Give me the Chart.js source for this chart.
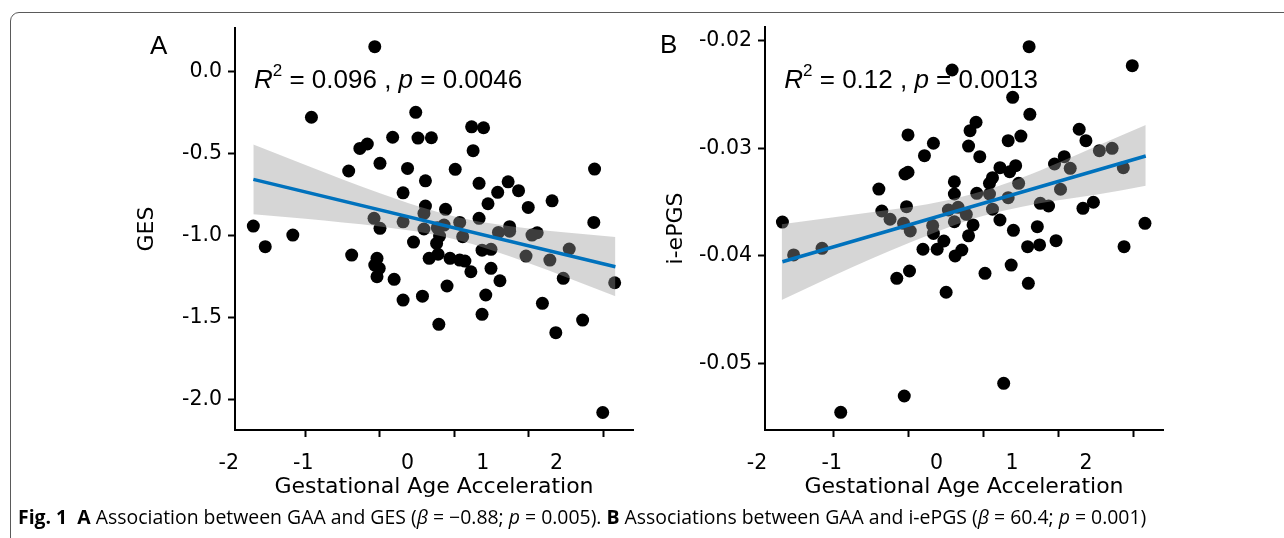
<!DOCTYPE html>
<html>
<head>
<meta charset="utf-8">
<script src="https://cdn.jsdelivr.net/npm/chart.js@4.4.1/dist/chart.umd.min.js"></script>
<style>
  html, body { margin: 0; padding: 0; background: #fff; overflow: hidden; }
  #page { position: relative; width: 1284px; height: 538px; }
  #frame { position: absolute; left: 10px; top: 12px; width: 1300px; height: 600px;
           border: 1.5px solid #5a5a5a; border-top-left-radius: 9px; }
  canvas { position: absolute; top: 0; }
  #cvA { left: 0; }
  #cvB { left: 645px; }
  #caption { position: absolute; left: 18px; top: 507px; font: 16px "Open Sans", sans-serif;
             line-height: 1; white-space: nowrap; color: #000; }
</style>
</head>
<body>
<div id="page">
  <div id="frame"></div>
  <canvas id="cvA" width="645" height="538"></canvas>
  <canvas id="cvB" width="639" height="538"></canvas>
  <div id="caption"><b>Fig. 1</b>&nbsp; <b>A</b> Association between GAA and GES (<i>β</i> = −0.88; <i>p</i> = 0.005). <b>B</b> Associations between GAA and i-ePGS (<i>β</i> = 60.4; <i>p</i> = 0.001)</div>
</div>
<script>
// panel A: gestational age acceleration vs GES
const gaaA = [
  -0.07, -0.92, 0.48, 0.17, 0.51, 0.69, -0.27, -0.17, 1.23, 1.39,
  1.25, -0.42, 0.00, 0.37, 1.01, 2.88, 0.61, 1.33, 1.72, 1.86,
  1.58, 0.31, 1.45, 1.99, 2.31, 0.61, 0.88, 0.59, -0.08, 0.31,
  1.33, 2.87, -1.70, 0.00, 0.59, 0.77, 0.86, 1.07, 1.74, 1.74,
  1.59, -1.17, 0.45, -1.54, 1.11, 2.04, 2.11, -0.38, -0.04, -0.07,
  -0.01, -0.04, 0.19, 0.76, 0.80, 0.66, 0.78, 0.94, 1.07, 1.14,
  1.22, 1.37, 1.49, 1.49, 1.61, 1.42, 1.37, 0.90, 0.57, 0.31,
  0.79, 1.96, 2.28, 2.54, 2.46, 2.18, 2.36, 2.72, 3.15, 2.99
];
const gesA = [
  0.153, -0.278, -0.248, -0.400, -0.405, -0.403, -0.468, -0.441, -0.336, -0.342,
  -0.482, -0.606, -0.559, -0.590, -0.596, -0.594, -0.666, -0.681, -0.672, -0.726,
  -0.736, -0.739, -0.806, -0.828, -0.788, -0.820, -0.840, -0.865, -0.895, -0.916,
  -0.895, -0.920, -0.942, -0.956, -0.960, -0.952, -0.936, -0.920, -0.946, -0.973,
  -0.981, -0.997, -1.040, -1.068, -1.007, -0.997, -0.983, -1.119, -1.139, -1.180,
  -1.200, -1.251, -1.267, -1.048, -1.003, -1.139, -1.114, -1.139, -1.150, -1.156,
  -1.221, -1.089, -1.084, -1.200, -1.276, -1.363, -1.481, -1.308, -1.370, -1.394,
  -1.542, -1.125, -1.150, -1.082, -1.261, -1.414, -1.593, -1.516, -1.288, -2.080
];
const fitXA = [-1.70, 3.16];
const fitYA = [-0.657, -1.190];
const bandXA = [-1.70, -1.0, -0.5, 0.0, 0.5, 1.0, 1.5, 2.0, 2.5, 3.16];
const bandHiA = [-0.444, -0.570, -0.658, -0.742, -0.820, -0.883, -0.927, -0.957, -0.982, -1.009];
const bandLoA = [-0.870, -0.898, -0.920, -0.944, -0.976, -1.023, -1.089, -1.169, -1.254, -1.371];

// panel B: gestational age acceleration vs i-ePGS
const gaaB = [
  1.61, 0.58, 2.99, 1.39, 1.62, 0.90, 0.82, -0.01, 2.28, 2.37,
  1.33, 1.50, 0.33, 0.80, 0.21, 0.95, 2.55, 2.72, 2.08, 1.95,
  2.16, 2.87, 1.22, 1.43, 1.35, -0.05, -0.01, 1.12, 1.08, 1.47,
  0.61, -0.40, 2.03, 0.61, 0.91, 1.08, 1.33, 1.76, 1.87, 2.47,
  2.33, -0.03, -0.36, -0.25, 0.53, 0.66, 0.77, 1.12, -1.69, 0.61,
  1.22, 3.16, -0.07, 0.02, 0.32, 0.33, 0.86, 1.40, 1.72, 0.80,
  0.47, -1.54, -1.16, 0.19, 0.38, 0.62, 0.71, 1.59, 1.75, 1.97,
  2.88, -0.16, 0.01, 0.50, 1.02, 1.37, 1.60, 1.27, -0.06, -0.91
];
const pgsB = [
  -0.02056, -0.02273, -0.02233, -0.02527, -0.02685, -0.02759, -0.02837, -0.02877, -0.02824, -0.02930,
  -0.02930, -0.02887, -0.02954, -0.02980, -0.03070, -0.03079, -0.03023, -0.03001, -0.03079, -0.03147,
  -0.03187, -0.03181, -0.03181, -0.03163, -0.03219, -0.03240, -0.03224, -0.03274, -0.03327, -0.03327,
  -0.03312, -0.03380, -0.03382, -0.03426, -0.03420, -0.03426, -0.03460, -0.03513, -0.03538, -0.03503,
  -0.03559, -0.03544, -0.03584, -0.03661, -0.03575, -0.03550, -0.03615, -0.03567, -0.03687, -0.03684,
  -0.03668, -0.03699, -0.03699, -0.03770, -0.03719, -0.03793, -0.03714, -0.03764, -0.03730, -0.03815,
  -0.03863, -0.03993, -0.03931, -0.03940, -0.03940, -0.04002, -0.03947, -0.03916, -0.03900, -0.03860,
  -0.03916, -0.04210, -0.04142, -0.04340, -0.04164, -0.04087, -0.04257, -0.05187, -0.05305, -0.05457
];
const fitXB = [-1.69, 3.17];
const fitYB = [-0.04056, -0.03073];
const bandXB = [-1.70, -1.0, -0.5, 0.0, 0.5, 1.0, 1.5, 2.0, 2.5, 3.17];
const bandHiB = [-0.03708, -0.03642, -0.03596, -0.03550, -0.03486, -0.03397, -0.03278, -0.03135, -0.02984, -0.02784];
const bandLoB = [-0.04412, -0.04184, -0.04028, -0.03883, -0.03744, -0.03629, -0.03546, -0.03485, -0.03434, -0.03349];

// axes
const xTickVals = [-1, 0, 1, 2, 3];
const xLabelVals = [-2.03, -1.03, 0.37, 1.38, 2.37];
const xLabelText = ['-2', '-1', '0', '1', '2'];
const yTickValsA = [0, -0.5, -1, -1.5, -2];
const yTickTextA = ['0.0', '-0.5', '-1.0', '-1.5', '-2.0'];
const yTickValsB = [-0.02, -0.03, -0.04, -0.05];
const yTickTextB = ['-0.02', '-0.03', '-0.04', '-0.05'];

const SANS = '"Liberation Sans", Arial, sans-serif';

const panelText = {
  id: 'panelText',
  afterDraw(chart, args, o) {
    const ctx = chart.ctx;
    ctx.save();
    ctx.fillStyle = '#000';
    ctx.textBaseline = 'alphabetic';
    ctx.textAlign = 'left';
    ctx.font = '26px ' + SANS;
    ctx.fillText(o.letter, o.letterX, o.letterY);
    let x = o.noteX;
    for (const p of o.note) {
      ctx.font = (p.italic ? 'italic ' : '') + (p.sup ? '17px ' : '26px ') + SANS;
      ctx.fillText(p.t, x, p.sup ? o.noteY - 12 : o.noteY);
      x += ctx.measureText(p.t).width;
    }
    ctx.restore();
  }
};

function toPts(xs, ys) {
  return xs.map((x, i) => ({ x: x, y: ys[i] }));
}

function buildPanel(id, p) {
  const tickFont = { family: 'DejaVu Sans', size: 20.5 };
  const titleFont = { family: 'DejaVu Sans', size: 22 };
  return new Chart(document.getElementById(id), {
    type: 'line',
    data: {
      datasets: [
        { data: toPts(p.xs, p.ys), xAxisID: 'x', yAxisID: 'y', showLine: false,
          pointRadius: 6.5, pointBackgroundColor: '#000', pointBorderWidth: 0, order: 3 },
        { data: toPts(p.bandX, p.bandHi), xAxisID: 'x', yAxisID: 'y', borderColor: 'rgba(0,0,0,0)',
          pointRadius: 0, fill: '+1', backgroundColor: 'rgba(153,153,153,0.4)',
          cubicInterpolationMode: 'monotone', order: 2 },
        { data: toPts(p.bandX, p.bandLo), xAxisID: 'x', yAxisID: 'y', borderColor: 'rgba(0,0,0,0)',
          pointRadius: 0, fill: false, cubicInterpolationMode: 'monotone', order: 2 },
        { data: toPts(p.fitX, p.fitY), xAxisID: 'x', yAxisID: 'y', borderColor: '#0072BD',
          borderWidth: 3.5, pointRadius: 0, fill: false, order: 1 }
      ]
    },
    options: {
      responsive: false,
      animation: false,
      events: [],
      layout: { padding: { left: 0, right: p.padRight, top: p.padTop, bottom: 0 } },
      plugins: {
        legend: { display: false },
        tooltip: { enabled: false },
        panelText: p.text
      },
      scales: {
        x: {
          type: 'linear', position: 'bottom', weight: 0, min: p.xMin, max: p.xMax,
          afterBuildTicks: s => { s.ticks = xTickVals.map(v => ({ value: v })); },
          ticks: { display: false },
          grid: { drawOnChartArea: false, tickLength: 7, tickWidth: 2, tickColor: '#000' },
          border: { color: '#000', width: 2 },
          afterFit: s => { s.height = 8; }
        },
        xl: {
          type: 'linear', position: 'bottom', weight: 1, min: p.xMin, max: p.xMax,
          afterBuildTicks: s => { s.ticks = xLabelVals.map(v => ({ value: v })); },
          ticks: { callback: (v, i) => xLabelText[i], padding: 5, font: tickFont, color: '#000',
                   autoSkip: false, maxRotation: 0 },
          grid: { display: false },
          border: { display: false },
          title: { display: true, text: 'Gestational Age Acceleration', font: titleFont, color: '#000',
                   padding: { top: 0, bottom: 38 } },
          afterFit: s => { s.height = 100; }
        },
        y: {
          type: 'linear', position: 'left', min: p.yMin, max: p.yMax,
          afterBuildTicks: s => { s.ticks = p.yTicks.map(v => ({ value: v })); },
          ticks: { callback: (v, i) => p.yText[i], padding: 6, font: tickFont, color: '#000' },
          grid: { drawOnChartArea: false, tickLength: 7, tickWidth: 2, tickColor: '#000' },
          border: { color: '#000', width: 2 },
          title: { display: true, text: p.yTitle, font: titleFont, color: '#000',
                   padding: { top: p.yTitlePad, bottom: 0 } },
          afterFit: s => { s.width = p.yWidth; }
        }
      }
    },
    plugins: [panelText]
  });
}

buildPanel('cvA', {
  xs: gaaA, ys: gesA, fitX: fitXA, fitY: fitYA, bandX: bandXA, bandHi: bandHiA, bandLo: bandLoA,
  xMin: -1.946, xMax: 3.396, yMin: -2.187, yMax: 0.267,
  yTicks: yTickValsA, yText: yTickTextA, yTitle: 'GES', yTitlePad: 134, yWidth: 235,
  padRight: 12, padTop: 28,
  text: {
    letter: 'A', letterX: 150, letterY: 53.5, noteX: 254, noteY: 88.3,
    note: [{ t: 'R', italic: true }, { t: '2', sup: true }, { t: ' = 0.096 , ' },
           { t: 'p', italic: true }, { t: ' = 0.0046' }]
  }
});

buildPanel('cvB', {
  xs: gaaB, ys: pgsB, fitX: fitXB, fitY: fitYB, bandX: bandXB, bandHi: bandHiB, bandLo: bandLoB,
  xMin: -1.923, xMax: 3.401, yMin: -0.05621, yMax: -0.01873,
  yTicks: yTickValsB, yText: yTickTextB, yTitle: 'i-ePGS', yTitlePad: 17.7, yWidth: 120,
  padRight: 121, padTop: 27,
  text: {
    letter: 'B', letterX: 15, letterY: 53, noteX: 139.3, noteY: 88.3,
    note: [{ t: 'R', italic: true }, { t: '2', sup: true }, { t: ' = 0.12 , ' },
           { t: 'p', italic: true }, { t: ' = 0.0013' }]
  }
});

// stretch the caption to the width it spans in the figure
const cap = document.getElementById('caption');
const capSize = 16 * 1129 / cap.getBoundingClientRect().width;
cap.style.fontSize = capSize.toFixed(2) + 'px';
cap.style.top = (524 - 0.888 * capSize).toFixed(1) + 'px';
</script>
</body>
</html>
